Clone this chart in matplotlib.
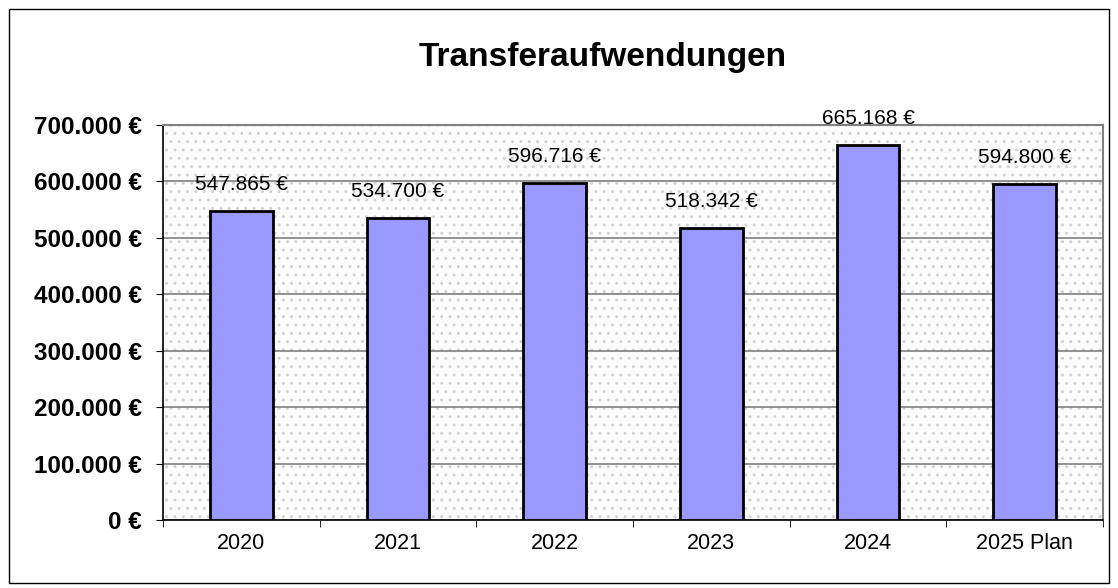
import matplotlib.pyplot as plt
import matplotlib.ticker as ticker
from matplotlib.patches import Rectangle

plt.rcParams['font.family'] = ['Liberation Sans', 'DejaVu Sans']
plt.rcParams['hatch.linewidth'] = 1.0

# Daten
jahre = ['2020', '2021', '2022', '2023', '2024', '2025 Plan']
werte = [547865, 534700, 596716, 518342, 665168, 594800]
labels = ['547.865 €', '534.700 €', '596.716 €', '518.342 €', '665.168 €', '594.800 €']

fig = plt.figure(figsize=(11.18, 5.88), dpi=100)
# Rahmen um das gesamte Diagramm
fig.patches.append(Rectangle((0.008, 0.008), 0.984, 0.976, transform=fig.transFigure,
                             fill=False, edgecolor='black', linewidth=1))

ax = fig.add_axes([0.1458, 0.1156, 0.8408, 0.6718])
ax.set_facecolor('#fcfcfc')
ax.add_patch(Rectangle((0, 0), 1, 1, transform=ax.transAxes, facecolor='none',
                       edgecolor='#d2d2d2', linewidth=0, hatch='..', zorder=0))

x = range(len(jahre))
ax.bar(x, werte, width=0.4, color='#9999ff', edgecolor='black', linewidth=2, zorder=3)

for i, (v, t) in enumerate(zip(werte, labels)):
    ax.text(i, v + 30000, t, ha='center', va='bottom', fontsize=15, zorder=4)

ax.set_xlim(-0.5, len(jahre) - 0.5)
ax.set_ylim(0, 700000)
ax.yaxis.set_major_locator(ticker.MultipleLocator(100000))
ax.yaxis.set_major_formatter(ticker.FuncFormatter(lambda v, pos: f'{v:,.0f} €'.replace(',', '.')))
ax.grid(axis='y', color='#808080', linewidth=1.2, zorder=1)
ax.set_axisbelow(True)

ax.set_xticks(list(x))
ax.set_xticklabels(jahre, fontsize=15.5)
ax.set_xticks([i - 0.5 for i in range(len(jahre) + 1)], minor=True)
ax.tick_params(axis='x', which='major', length=0, pad=9)
ax.tick_params(axis='x', which='minor', length=5, direction='out')
ax.tick_params(axis='y', length=5, direction='out', pad=10)
for lab in ax.get_yticklabels():
    lab.set_fontweight('bold')
    lab.set_fontsize(17.5)

ax.spines['top'].set_color('#808080')
ax.spines['right'].set_color('#808080')
ax.spines['top'].set_linewidth(1.5)
ax.spines['right'].set_linewidth(1.5)
ax.spines['left'].set_linewidth(1.2)
ax.spines['bottom'].set_linewidth(1.2)

fig.text(0.539, 0.903, 'Transferaufwendungen', ha='center', va='center',
         fontsize=24, fontweight='bold')

fig.savefig('out.png', dpi=100)
